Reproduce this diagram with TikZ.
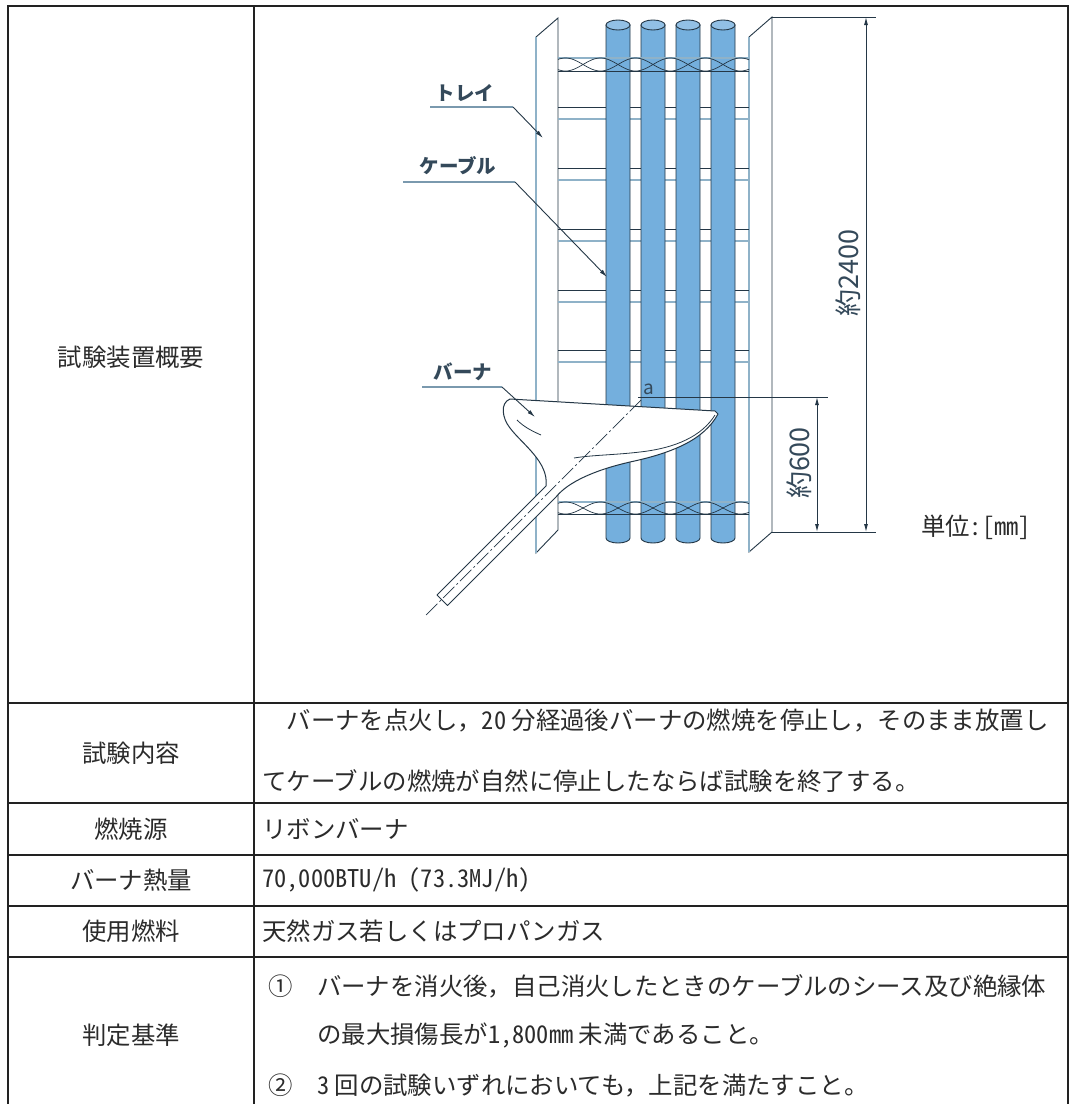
\documentclass[tikz,border=0pt]{standalone}
\usepackage{fontspec}
\setmainfont{Liberation Serif}
\newfontfamily\jp{Noto Sans CJK JP}
\newfontfamily\jplat{Noto Sans CJK JP}[RawFeature=+hwid]
\usetikzlibrary{arrows.meta}
\definecolor{tcol}{HTML}{222222}
\definecolor{txt}{HTML}{2B2B2B}
\definecolor{dk}{HTML}{243746}
\definecolor{lt}{HTML}{8FB2C8}
\definecolor{cab}{HTML}{74AFDD}
\definecolor{cabtop}{HTML}{92C0E5}
\definecolor{lbl}{HTML}{34495A}
\newcommand\tsz{\fontsize{24.4pt}{30pt}\selectfont}
\begin{document}
\begin{tikzpicture}[x=1pt,y=-1pt,
  tline/.style={line width=2.6pt,draw=tcol},
  ttext/.style={inner sep=0pt,font=\jp\tsz,text=txt},
  dkline/.style={draw=dk,line width=0.9pt},
  ltline/.style={draw=lt,line width=1.2pt},
  cable/.style={fill=cab,draw=dk,line width=0.9pt},
  leadtxt/.style={inner sep=0pt,font=\jp\bfseries\fontsize{19.5pt}{22pt}\selectfont,text=lbl},
  dimtxt/.style={inner sep=0pt,font=\jp\fontsize{27pt}{29pt}\selectfont,text=lbl,rotate=90},
  dimarrow/.style={draw=dk,line width=0.9pt,{Latex[length=8pt,width=4pt]}-{Latex[length=8pt,width=4pt]}},
  leadarrow/.style={draw=dk,line width=0.9pt,-{Latex[length=8pt,width=4pt]}},
  underl/.style={draw=lt!80!dk,line width=1.3pt},
  centerl/.style={draw=dk,line width=0.7pt,dash pattern=on 16pt off 3pt on 2pt off 3pt},
]
\useasboundingbox (0,0) rectangle (1071,1104);
\fill[white] (0,0) rectangle (1071,1104);

% ---------- table ----------
\draw[tline,line join=miter] (8,1104) -- (8,6) -- (1068,6) -- (1068,1104);
\draw[tline] (254,6) -- (254,1104);
\foreach \yy in {703,803,855,906,957} \draw[tline] (8,\yy) -- (1068,\yy);

\node[ttext] (h1) at (131,357) {試験装置概要};
\node[ttext] (h2) at (131,753) {試験内容};
\node[ttext] (h3) at (131,829) {燃焼源};
\node[ttext] (h4) at (131,880) {バーナ熱量};
\node[ttext] (h5) at (131,931) {使用燃料};
\node[ttext] (h6) at (131,1035) {判定基準};

\node[ttext,anchor=west] (r2a) at (262,720) {　バーナを点火し，{\jplat 20} 分経過後バーナの燃焼を停止し，そのまま放置し};
\node[ttext,anchor=west] (r2b) at (262,781) {てケーブルの燃焼が自然に停止したならば試験を終了する。};
\node[ttext,anchor=west] (r3) at (262,829) {リボンバーナ};
\node[ttext,anchor=west] (r4) at (262,880) {\jplat 70,000BTU/h (73.3MJ/h)};
\node[ttext,anchor=west] (r5) at (262,931) {天然ガス若しくはプロパンガス};
\node[ttext,anchor=west] (r6a) at (268,986) {①　バーナを消火後，自己消火したときのケーブルのシース及び絶縁体};
\node[ttext,anchor=west] (r6b) at (317,1035) {の最大損傷長が{\jplat 1,800mm} 未満であること。};
\node[ttext,anchor=west] (r6c) at (268,1085) {②　{\jplat 3} 回の試験いずれにおいても，上記を満たすこと。};

\node[ttext] (unit) at (976,527) {単位{\jplat :[mm]}};

% ---------- tray rails ----------
\filldraw[fill=white,draw=dk,line width=0.9pt] (536,37) -- (558,18) -- (558,530) -- (536,553) -- cycle;
\draw[ltline,line width=1.6pt] (536,37) -- (536,553);
\filldraw[fill=white,draw=dk,line width=0.9pt] (749,37) -- (772,17) -- (772,532) -- (749,552) -- cycle;
\draw[ltline,line width=1.6pt] (749,37) -- (749,552);

% rungs
\foreach \yy in {107,168,229,290,350} {
  \draw[dkline] (558,\yy) -- (749,\yy);
  \draw[ltline] (558,\yy+12) -- (749,\yy+12);
}

% ---------- cables ----------
\foreach \c in {618,653,688,723} {
  \filldraw[cable] ({\c+12},25) -- ({\c+12},538) arc[start angle=0,end angle=180,x radius=12,y radius=5] -- ({\c-12},25) -- cycle;
  \filldraw[fill=cabtop,draw=dk,line width=0.9pt] (\c,25) ellipse[x radius=12,y radius=5];
}

% ties
\draw[ltline] (558,58) -- (749,58);
\draw[dkline] (558,71) -- (749,71);
\draw[dk,line width=0.7pt] plot[domain=558:749,samples=140,smooth] (\x,{64.5+6.5*sin((\x-618)/35*180)});
\draw[dk,line width=0.7pt] plot[domain=558:749,samples=140,smooth] (\x,{64.5-6.5*sin((\x-618)/35*180)});
\draw[ltline] (558,502) -- (749,502);
\draw[dkline] (558,514) -- (749,514);
\draw[dk,line width=0.7pt] plot[domain=558:749,samples=140,smooth] (\x,{508+6*sin((\x-618)/35*180)});
\draw[dk,line width=0.7pt] plot[domain=558:749,samples=140,smooth] (\x,{508-6*sin((\x-618)/35*180)});

% ---------- burner ----------
\filldraw[fill=white,draw=dk,line width=1pt,line join=round]
  (510,399) -- (715,411) -- (718,414)
  .. controls (704,440) and (672,453) .. (630,462)
  .. controls (595,470) and (568,482) .. (556,497)
  -- (447.5,605.5) -- (437,595) -- (546,486)
  .. controls (549,462) and (522,444) .. (510,428)
  .. controls (502,418) and (500,403) .. (510,399) -- cycle;
\draw[dk,line width=0.8pt] (715,415) .. controls (702,436) and (676,448) .. (640,452)
  .. controls (615,455) and (592,455) .. (574,458);
\draw[dk,line width=0.8pt] (517,420) .. controls (524,427) and (532,431) .. (541,435);
\coordinate (apt) at (641,400);
\coordinate (cend) at (426,615);
\draw[centerl] (apt) -- (cend);
\node[inner sep=0pt,font=\jp\fontsize{19pt}{20pt}\selectfont,text=lbl] (alab) at (649,389) {a};

% ---------- dimensions ----------
\coordinate (e1a) at (772,17);  \coordinate (e1b) at (876,17);
\coordinate (e2a) at (772,532); \coordinate (e2b) at (876,532);
\coordinate (e3a) at (638,397); \coordinate (e3b) at (828,397);
\draw[dkline] (e1a) -- (e1b);
\draw[dkline] (e2a) -- (e2b);
\draw[dkline] (e3a) -- (e3b);
\coordinate (d1t) at (866,17); \coordinate (d1b) at (866,532);
\coordinate (d2t) at (817,397); \coordinate (d2b) at (817,532);
\draw[dimarrow] (d1t) -- (d1b);
\draw[dimarrow] (d2t) -- (d2b);
\node[dimtxt] (dim2400) at (848,273) {約2400};
\node[dimtxt] (dim600) at (799,463) {約600};

% ---------- leaders ----------
\node[leadtxt] (ltray) at (465,93) {トレイ};
\node[leadtxt] (lcable) at (458,166) {ケーブル};
\node[leadtxt] (lburn) at (463,372) {バーナ};
\coordinate (u1a) at (430,107); \coordinate (u1b) at (513,107); \coordinate (t1) at (543,138);
\coordinate (u2a) at (403,182); \coordinate (u2b) at (515,182); \coordinate (t2) at (607,277);
\coordinate (u3a) at (422,387); \coordinate (u3b) at (502,387); \coordinate (t3) at (535,417);
\draw[underl] (u1a) -- (u1b);
\draw[leadarrow] (u1b) -- (t1);
\draw[underl] (u2a) -- (u2b);
\draw[leadarrow] (u2b) -- (t2);
\draw[underl] (u3a) -- (u3b);
\draw[leadarrow] (u3b) -- (t3);
\end{tikzpicture}
\end{document}
